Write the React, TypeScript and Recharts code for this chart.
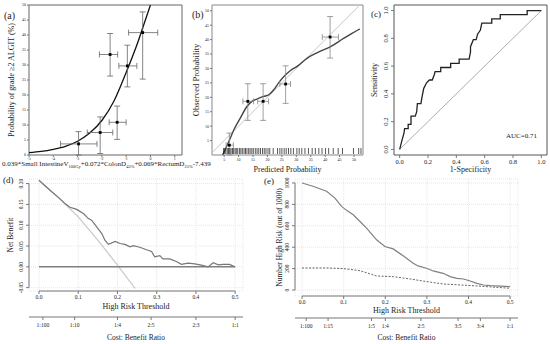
import React from "react";
import {
  ComposedChart, Line, Scatter, XAxis, YAxis, ErrorBar, CartesianGrid, Label, ReferenceArea, ReferenceLine,
} from "recharts";

const FONT = "'Liberation Serif', 'Times New Roman', serif";
const INK = "#222";

// (a) score vs probability
const aXTicks = [-5, -4, -3, -2, -1, 0, 1];
const aYTicks = [0, 5, 10, 15, 20, 25, 30, 35, 40, 45, 50];
const aCurveX = [-5, -4.5, -4, -3.5, -3, -2.5, -2, -1.5, -1, -0.5, -0.25, 0];
const aCurveY = [0.8, 1.2, 1.9, 2.9, 4.6, 7.3, 11.5, 18, 27.5, 38, 44, 50];
const aPtX = [-2.96, -2.07, -1.66, -1.37, -0.95, -0.32];
const aPtY = [3.7, 7.5, 33.5, 10.9, 29.7, 40.8];
const aPtXLo = [-3.7, -2.6, -2.1, -1.7, -1.3, -0.9];
const aPtXHi = [-2.2, -1.55, -1.35, -1.0, -0.56, 0.3];
const aPtYLo = [0, 0.5, 26.3, 5.2, 22.7, 25.3];
const aPtYHi = [7.8, 12.7, 40.5, 16.3, 36.6, 47.7];

// (b) calibration
const bTicks = [5, 10, 15, 20, 25, 30, 35, 40, 45, 50];
const bCurveX = [4.5, 6.9, 8.5, 10.6, 12.9, 14.5, 16.4, 18.7, 20.5, 22.2, 24, 26.3, 28, 30.3, 33.8, 37.3, 41.9, 46.5, 49, 52];
const bCurveY = [0, 5.3, 9, 12.8, 16.8, 18.5, 19.4, 20.3, 20.9, 22.6, 25.2, 27.8, 29.3, 30.7, 33.6, 35.5, 37.6, 40.5, 42, 43.7];
const bPtX = [6.8, 13.2, 18.5, 26.3, 41.7];
const bPtY = [3.4, 18.6, 18.6, 24.6, 40.9];
const bPtXLo = [5.7, 11.5, 16.6, 24.3, 39];
const bPtXHi = [8.2, 15.2, 20.4, 28, 44.6];
const bPtYLo = [0, 12, 12, 17.9, 33.6];
const bPtYHi = [7.6, 24.7, 24.7, 30.9, 48];
const bRug = [4.8, 5.2, 5.6, 6.1, 6.5, 7.0, 7.4, 7.9, 8.3, 8.8, 9.2, 9.7, 10.3, 10.8, 11.3, 11.9, 12.4, 12.9,
  13.5, 14.0, 14.6, 15.1, 15.8, 16.4, 17.0, 17.6, 18.3, 18.9, 19.5, 20.2, 20.8, 22.0, 23.5, 24.3, 25.0, 25.8,
  26.5, 27.3, 28.1, 29.0, 30.2, 31.0, 31.9, 33.0, 34.2, 35.5, 36.6, 37.8, 38.9, 40.1, 41.2, 42.8, 44.5, 46.0,
  49.8, 51.6, 52.4];

// (c) ROC
const cTicks = [0, 0.2, 0.4, 0.6, 0.8, 1];
const rocFpr = [0, 0.01, 0.02, 0.03, 0.035, 0.06, 0.06, 0.08, 0.08, 0.11, 0.12, 0.125, 0.15, 0.155, 0.16, 0.17,
  0.19, 0.21, 0.23, 0.245, 0.25, 0.29, 0.29, 0.36, 0.36, 0.42, 0.42, 0.49, 0.5, 0.5, 0.52, 0.54, 0.55, 0.57,
  0.58, 0.65, 0.65, 0.71, 0.71, 0.9, 0.9, 1];
const rocTpr = [0, 0.04, 0.08, 0.115, 0.15, 0.15, 0.18, 0.18, 0.24, 0.24, 0.27, 0.33, 0.33, 0.36, 0.39, 0.44,
  0.48, 0.5, 0.5, 0.54, 0.56, 0.56, 0.59, 0.59, 0.62, 0.62, 0.65, 0.65, 0.7, 0.74, 0.79, 0.79, 0.83, 0.86,
  0.91, 0.91, 0.94, 0.94, 0.97, 0.97, 1, 1];

// (d) decision curve
const dcaTicks = [0, 0.1, 0.2, 0.3, 0.4, 0.5];
const dYTicks = [-0.05, 0, 0.05, 0.1, 0.15, 0.2];
const dAllX = [0, 0.05, 0.1, 0.15, 0.2, 0.245];
const dAllY = [0.207, 0.166, 0.12, 0.064, 0.004, -0.052];
const dModelX = [0, 0.028, 0.053, 0.066, 0.079, 0.096, 0.113, 0.126, 0.134, 0.147, 0.16, 0.168, 0.177, 0.194,
  0.207, 0.219, 0.232, 0.24, 0.257, 0.274, 0.287, 0.295, 0.308, 0.316, 0.333, 0.35, 0.363, 0.38, 0.397, 0.414,
  0.431, 0.444, 0.457, 0.469, 0.486, 0.499];
const dModelY = [0.208, 0.184, 0.164, 0.152, 0.143, 0.138, 0.128, 0.116, 0.112, 0.096, 0.08, 0.064, 0.054, 0.061,
  0.056, 0.054, 0.048, 0.051, 0.047, 0.041, 0.037, 0.024, 0.027, 0.019, 0.019, 0.013, 0.006, 0.009, 0.007, 0.004,
  0, 0.01, 0.005, 0.006, 0.006, 0];
const dNoneX = [0, 0.5];
const dNoneY = [0, 0];
const dCbTicks = [0.0099, 0.0909, 0.2, 0.2857, 0.4, 0.5];
const dCbLabels = ["1:100", "1:10", "1:4", "2:5", "2:3", "1:1"];

// (e) clinical impact
const eYTicks = [0, 200, 400, 600, 800, 1000];
const eHighX = [0, 0.026, 0.059, 0.079, 0.095, 0.107, 0.123, 0.135, 0.155, 0.179, 0.199, 0.219, 0.243, 0.267,
  0.279, 0.299, 0.315, 0.339, 0.356, 0.372, 0.388, 0.404, 0.42, 0.436, 0.452, 0.5];
const eHighY = [1000, 969, 922, 859, 781, 744, 703, 656, 578, 469, 406, 384, 319, 250, 225, 203, 178, 156, 125,
  109, 103, 84, 62, 47, 41, 31];
const eEventX = [0, 0.059, 0.1, 0.139, 0.179, 0.219, 0.26, 0.3, 0.34, 0.38, 0.42, 0.5];
const eEventY = [206, 206, 200, 181, 131, 125, 103, 78, 56, 47, 38, 16];
const eCbTicks = [0.0099, 0.0625, 0.1667, 0.2, 0.2857, 0.375, 0.4286, 0.5];
const eCbLabels = ["1:100", "1:15", "1:5", "1:4", "2:5", "3:5", "3:4", "1:1"];

const xy = (xs: number[], ys: number[]) => xs.map((x, i) => ({ x, y: ys[i] }));
const withErr = (xs: number[], ys: number[], xl: number[], xh: number[], yl: number[], yh: number[]) =>
  xs.map((x, i) => ({ x, y: ys[i], ex: [x - xl[i], xh[i] - x], ey: [ys[i] - yl[i], yh[i] - ys[i]] }));

const tickB = (fs: number, fmt: (v: number) => string = String) => (p: any) => (
  <text x={p.x} y={p.y} dy={fs * 0.72} textAnchor="middle" fontSize={fs} fontFamily={FONT} fill={INK}>
    {fmt(p.payload.value)}
  </text>
);
const tickL = (fs: number, fmt: (v: number) => string = String) => (p: any) => (
  <text x={p.x} y={p.y} dy={fs * 0.35} textAnchor="end" fontSize={fs} fontFamily={FONT} fill={INK}>
    {fmt(p.payload.value)}
  </text>
);
const tickRot = (fs: number, fmt: (v: number) => string = String) => (p: any) => (
  <text x={p.x} y={p.y} transform={`rotate(-90 ${p.x} ${p.y})`} textAnchor="middle" fontSize={fs}
    fontFamily={FONT} fill={INK}>
    {fmt(p.payload.value)}
  </text>
);
const square = (p: any) => <rect x={p.cx - 1.4} y={p.cy - 1.4} width={2.8} height={2.8} fill="#000" />;
const rugMark = (p: any) => <line x1={p.cx} x2={p.cx} y1={p.cy - 7} y2={p.cy - 1} stroke="#111" strokeWidth={0.7} />;

const Txt = ({ x, y, size, children }: any) => (
  <div style={{ position: "absolute", left: x, top: y, fontSize: size, fontFamily: FONT, lineHeight: 1, color: INK, whiteSpace: "nowrap" }}>
    {children}
  </div>
);
const sub = { fontSize: 4.5, verticalAlign: "-1.5px" };
const tl = { stroke: "#777" };

// axis titles, drawn by the axis itself (own content so Recharts does not wrap them)
const bottomTitle = (value: string, fs: number, fromBottom: number) => (
  <Label
    content={(p: any) => {
      const vb = p.viewBox;
      return (
        <text x={vb.x + vb.width / 2} y={vb.y + vb.height - fromBottom} textAnchor="middle" fontSize={fs}
          fontFamily={FONT} fill={INK}>{value}</text>
      );
    }}
  />
);
const leftTitle = (value: string, fs: number, cx: number) => (
  <Label
    content={(p: any) => {
      const vb = p.viewBox;
      const x = vb.x + cx;
      const y = vb.y + vb.height / 2;
      return (
        <text x={x} y={y} transform={`rotate(-90 ${x} ${y})`} textAnchor="middle" dominantBaseline="central"
          fontSize={fs} fontFamily={FONT} fill={INK}>{value}</text>
      );
    }}
  />
);

export default function App() {
  const aCurve = xy(aCurveX, aCurveY);
  const aPts = withErr(aPtX, aPtY, aPtXLo, aPtXHi, aPtYLo, aPtYHi);
  const bCurve = xy(bCurveX, bCurveY);
  const bPts = withErr(bPtX, bPtY, bPtXLo, bPtXHi, bPtYLo, bPtYHi);
  const bRugPts = bRug.map((x) => ({ x, y: 0 }));
  const roc = xy(rocFpr, rocTpr);
  const f1 = (v: number) => v.toFixed(1);
  const f2 = (v: number) => v.toFixed(2);

  return (
    <div style={{ position: "absolute", left: 0, top: 0, width: 550, height: 344, background: "#fff", overflow: "hidden" }}>
      {/* (a) */}
      <div style={{ position: "absolute", left: 0, top: 0 }}>
        <ComposedChart width={190} height={162} margin={{ top: 5, right: 8, bottom: 0, left: 0 }}>
          <XAxis type="number" dataKey="x" domain={[-5, 1.3]} ticks={aXTicks} interval={0} allowDataOverflow
            height={7} axisLine={false} tickSize={2} tickMargin={0} tickLine={tl} tick={tickB(4)} />
          <YAxis type="number" dataKey="y" domain={[0, 50]} ticks={aYTicks} interval={0} allowDataOverflow
            width={29} axisLine={false} tickSize={2} tickMargin={1} tickLine={tl} tick={tickL(4)}>
            {leftTitle("Probability of grade ≥2 ALGIT (%)", 8, 11)}
          </YAxis>
          <ReferenceArea x1={-5} x2={1.3} y1={0} y2={50} fill="none" stroke="#666" ifOverflow="visible" />
          <Line data={aCurve} dataKey="y" type="monotone" stroke="#111" strokeWidth={1.3} dot={false} isAnimationActive={false} />
          <Scatter data={aPts} dataKey="y" shape={square} isAnimationActive={false}>
            <ErrorBar dataKey="ex" direction="x" width={3} stroke="#666" strokeWidth={0.8} />
            <ErrorBar dataKey="ey" direction="y" width={3} stroke="#666" strokeWidth={0.8} />
          </Scatter>
        </ComposedChart>
      </div>

      {/* (b) */}
      <div style={{ position: "absolute", left: 180, top: 0 }}>
        <ComposedChart width={190} height={175} margin={{ top: 5, right: 7, bottom: 0, left: 0 }}>
          <XAxis type="number" dataKey="x" domain={[0.8, 53.1]} ticks={bTicks} interval={0} allowDataOverflow
            height={20} axisLine={false} tickSize={2} tickMargin={1} tickLine={tl} tick={tickB(4)}>
            {bottomTitle("Predicted Probability", 8, 3)}
          </XAxis>
          <YAxis type="number" dataKey="y" domain={[0, 52]} ticks={bTicks} interval={0} allowDataOverflow
            width={32} axisLine={false} tickSize={2} tickMargin={1} tickLine={tl} tick={tickL(4)}>
            {leftTitle("Observed Probability", 8.5, 16)}
          </YAxis>
          <ReferenceArea x1={0.8} x2={53.1} y1={0} y2={52} fill="none" stroke="#888" ifOverflow="visible" />
          <Line data={xy([0, 53], [0, 53])} dataKey="y" stroke="#c8c8c8" strokeWidth={1} dot={false} isAnimationActive={false} />
          <Line data={bCurve} dataKey="y" type="monotone" stroke="#444" strokeWidth={1.4} dot={false} isAnimationActive={false} />
          <Scatter data={bRugPts} dataKey="y" shape={rugMark} isAnimationActive={false} />
          <Scatter data={bPts} dataKey="y" shape={square} isAnimationActive={false}>
            <ErrorBar dataKey="ex" direction="x" width={3} stroke="#888" strokeWidth={0.8} />
            <ErrorBar dataKey="ey" direction="y" width={3} stroke="#888" strokeWidth={0.8} />
          </Scatter>
        </ComposedChart>
      </div>

      {/* (c) */}
      <div style={{ position: "absolute", left: 365, top: 0 }}>
        <ComposedChart width={185} height={175} margin={{ top: 5, right: 3, bottom: 0, left: 0 }}>
          <XAxis type="number" dataKey="x" domain={[-0.04, 1.04]} ticks={cTicks} interval={0} allowDataOverflow
            height={20} axisLine={false} tickSize={3} tickMargin={1} tickLine={tl} tick={tickB(6.5, f1)}>
            {bottomTitle("1-Specificity", 8, 3)}
          </XAxis>
          <YAxis type="number" dataKey="y" domain={[-0.04, 1.04]} ticks={cTicks} interval={0} allowDataOverflow
            width={29} axisLine={false} tickSize={3} tickMargin={3} tickLine={tl} tick={tickRot(6.5, f1)}>
            {leftTitle("Sensitivity", 8, 9)}
          </YAxis>
          <ReferenceArea x1={-0.04} x2={1.04} y1={-0.04} y2={1.04} fill="none" stroke="#555" ifOverflow="visible" />
          <Line data={xy([0, 1], [0, 1])} dataKey="y" stroke="#999" strokeWidth={0.8} dot={false} isAnimationActive={false} />
          <Line data={roc} dataKey="y" type="linear" stroke="#222" strokeWidth={1.3} dot={false} isAnimationActive={false} />
        </ComposedChart>
      </div>

      {/* (d) */}
      <div style={{ position: "absolute", left: 0, top: 170 }}>
        <ComposedChart width={260} height={174} margin={{ top: 9, right: 17, bottom: 0, left: 0 }}>
          <CartesianGrid stroke="#e6e6e6" strokeDasharray="1 1" />
          <XAxis type="number" dataKey="x" domain={[-0.0255, 0.52]} ticks={dcaTicks} interval={0} allowDataOverflow
            height={26} axisLine={false} tickSize={3} tickMargin={1} tickLine={tl} tick={tickB(5.5, f1)}>
            {bottomTitle("High Risk Threshold", 8, 8)}
          </XAxis>
          <XAxis xAxisId="cb" type="number" dataKey="x" domain={[-0.0255, 0.52]} ticks={dCbTicks} interval={0}
            allowDataOverflow height={27} stroke="#777" tickSize={3} tickMargin={3.5} tickLine={tl}
            tick={tickB(5.5, (v) => dCbLabels[dCbTicks.indexOf(v)])}>
            {bottomTitle("Cost: Benefit Ratio", 7.5, 4.5)}
          </XAxis>
          <YAxis type="number" dataKey="y" domain={[-0.058, 0.211]} ticks={dYTicks} interval={0} allowDataOverflow
            width={29} axisLine={false} tickSize={3} tickMargin={3} tickLine={tl} tick={tickRot(5.5, f2)}>
            {leftTitle("Net Benefit", 7.5, 10)}
          </YAxis>
          <ReferenceLine segment={[{ x: -0.0255, y: -0.05 }, { x: -0.0255, y: 0.2 }]} stroke="#777" ifOverflow="visible" />
          <ReferenceLine segment={[{ x: 0, y: -0.058 }, { x: 0.5, y: -0.058 }]} stroke="#777" ifOverflow="visible" />
          <Line data={xy(dAllX, dAllY)} dataKey="y" stroke="#c8c8c8" strokeWidth={1.2} dot={false} isAnimationActive={false} />
          <Line xAxisId="cb" data={xy(dNoneX, dNoneY)} dataKey="y" stroke="#808080" strokeWidth={1.5} dot={false} isAnimationActive={false} />
          <Line data={xy(dModelX, dModelY)} dataKey="y" stroke="#777" strokeWidth={1.2} dot={false} isAnimationActive={false} />
        </ComposedChart>
      </div>

      {/* (e) */}
      <div style={{ position: "absolute", left: 270, top: 170 }}>
        <ComposedChart width={280} height={174} margin={{ top: 9, right: 32, bottom: 0, left: 0 }}>
          <CartesianGrid stroke="#e6e6e6" strokeDasharray="1 1" />
          <XAxis type="number" dataKey="x" domain={[-0.017, 0.519]} ticks={dcaTicks} interval={0} allowDataOverflow
            height={22} axisLine={false} tickSize={3} tickMargin={1} tickLine={tl} tick={tickB(5.5, f1)}>
            {bottomTitle("High Risk Threshold", 8, 5.5)}
          </XAxis>
          <XAxis xAxisId="cb" type="number" dataKey="x" domain={[-0.017, 0.519]} ticks={eCbTicks} interval={0}
            allowDataOverflow height={26} stroke="#777" tickSize={3} tickMargin={3.5} tickLine={tl}
            tick={tickB(5.5, (v) => eCbLabels[eCbTicks.indexOf(v)])}>
            {bottomTitle("Cost: Benefit Ratio", 7.5, 4.5)}
          </XAxis>
          <YAxis type="number" dataKey="y" domain={[-56, 1037]} ticks={eYTicks} interval={0} allowDataOverflow
            width={25} axisLine={false} tickSize={3} tickMargin={3} tickLine={tl} tick={tickRot(5.5)}>
            {leftTitle("Number High Risk (out of 1000)", 7.5, 9)}
          </YAxis>
          <ReferenceLine segment={[{ x: -0.017, y: 0 }, { x: -0.017, y: 1000 }]} stroke="#777" ifOverflow="visible" />
          <ReferenceLine segment={[{ x: 0, y: -56 }, { x: 0.5, y: -56 }]} stroke="#777" ifOverflow="visible" />
          <Line xAxisId="cb" data={xy(eEventX, eEventY)} dataKey="y" stroke="#555" strokeWidth={0.9} strokeDasharray="2 1.5" dot={false} isAnimationActive={false} />
          <Line data={xy(eHighX, eHighY)} dataKey="y" stroke="#808080" strokeWidth={1.2} dot={false} isAnimationActive={false} />
        </ComposedChart>
      </div>

      <Txt x={4} y={11} size={10}>(a)</Txt>
      <Txt x={192} y={10} size={10}>(b)</Txt>
      <Txt x={371} y={10} size={9}>(c)</Txt>
      <Txt x={3} y={176} size={9}>(d)</Txt>
      <Txt x={264} y={176.5} size={9}>(e)</Txt>
      <Txt x={506} y={133} size={7}>AUC=0.71</Txt>
      <Txt x={2} y={161} size={7}>
        0.039*Small IntestineV<sub style={sub}>100Gy</sub>+0.072*ColonD<sub style={sub}>45%</sub>+0.069*RectumD<sub style={sub}>25%</sub>-7.439
      </Txt>
    </div>
  );
}
